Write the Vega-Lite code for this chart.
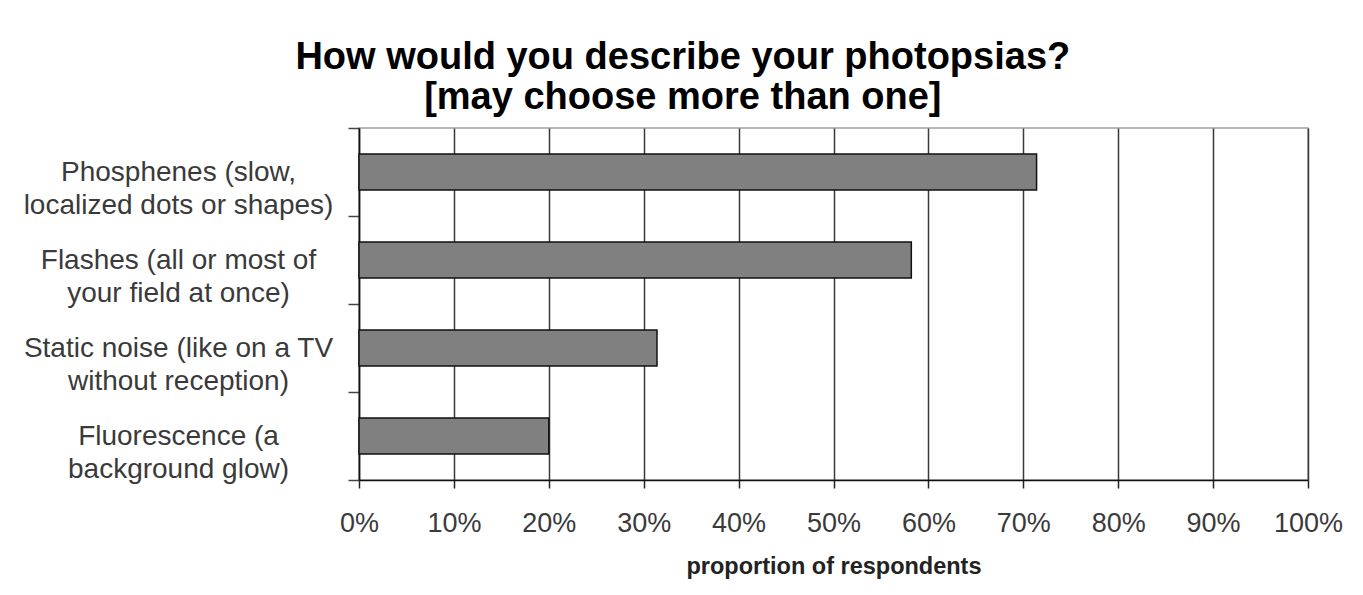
{
  "$schema": "https://vega.github.io/schema/vega-lite/v6.json",
  "autosize": {"type": "none"},
  "width": 949,
  "height": 352,
  "padding": {"left": 359, "top": 128, "right": 55, "bottom": 115},
  "background": "white",
  "title": {
    "text": ["How would you describe your photopsias?", "[may choose more than one]"],
    "font": "Liberation Sans",
    "fontSize": 38,
    "fontWeight": "bold",
    "color": "#000000",
    "anchor": "middle",
    "frame": "bounds",
    "lineHeight": 40,
    "offset": -3
  },
  "data": {
    "values": [
      {"description": "Phosphenes (slow,\nlocalized dots or shapes)", "proportion": 0.714},
      {"description": "Flashes (all or most of\nyour field at once)", "proportion": 0.582},
      {"description": "Static noise (like on a TV\nwithout reception)", "proportion": 0.314},
      {"description": "Fluorescence (a\nbackground glow)", "proportion": 0.2}
    ]
  },
  "mark": {
    "type": "bar",
    "fill": "#808080",
    "stroke": "#111111",
    "strokeWidth": 1.5,
    "height": {"band": 0.41}
  },
  "encoding": {
    "y": {
      "field": "description",
      "type": "nominal",
      "sort": null,
      "scale": {"paddingInner": 0, "paddingOuter": 0},
      "axis": {
        "title": null,
        "tickBand": "extent",
        "tickSize": 11,
        "tickColor": "#444444",
        "tickWidth": 1.5,
        "domainColor": "#111111",
        "domainWidth": 1.5,
        "labelExpr": "split(datum.label, '\\n')",
        "labelAlign": "center",
        "labelBaseline": "middle",
        "labelPadding": 170,
        "labelLimit": 400,
        "labelFont": "Liberation Sans",
        "labelFontSize": 28,
        "labelLineHeight": 33,
        "labelColor": "#3a3a3a"
      }
    },
    "x": {
      "field": "proportion",
      "type": "quantitative",
      "scale": {"domain": [0, 1], "nice": false},
      "axis": {
        "title": "proportion of respondents",
        "format": ".0%",
        "values": [0, 0.1, 0.2, 0.3, 0.4, 0.5, 0.6, 0.7, 0.8, 0.9, 1],
        "grid": true,
        "gridColor": "#3a3a3a",
        "gridWidth": 1.5,
        "tickSize": 8,
        "tickColor": "#222222",
        "tickWidth": 1.5,
        "domainColor": "#111111",
        "domainWidth": 1.5,
        "labelFont": "Liberation Sans",
        "labelFontSize": 27,
        "labelColor": "#3a3a3a",
        "labelPadding": 22,
        "labelFlush": false,
        "titleFont": "Liberation Sans",
        "titleFontSize": 23.5,
        "titleFontWeight": "bold",
        "titleColor": "#222222",
        "titleBaseline": "alphabetic",
        "titleY": 93
      }
    }
  },
  "config": {
    "view": {"stroke": "#a0a0a0", "strokeWidth": 1.5}
  }
}
